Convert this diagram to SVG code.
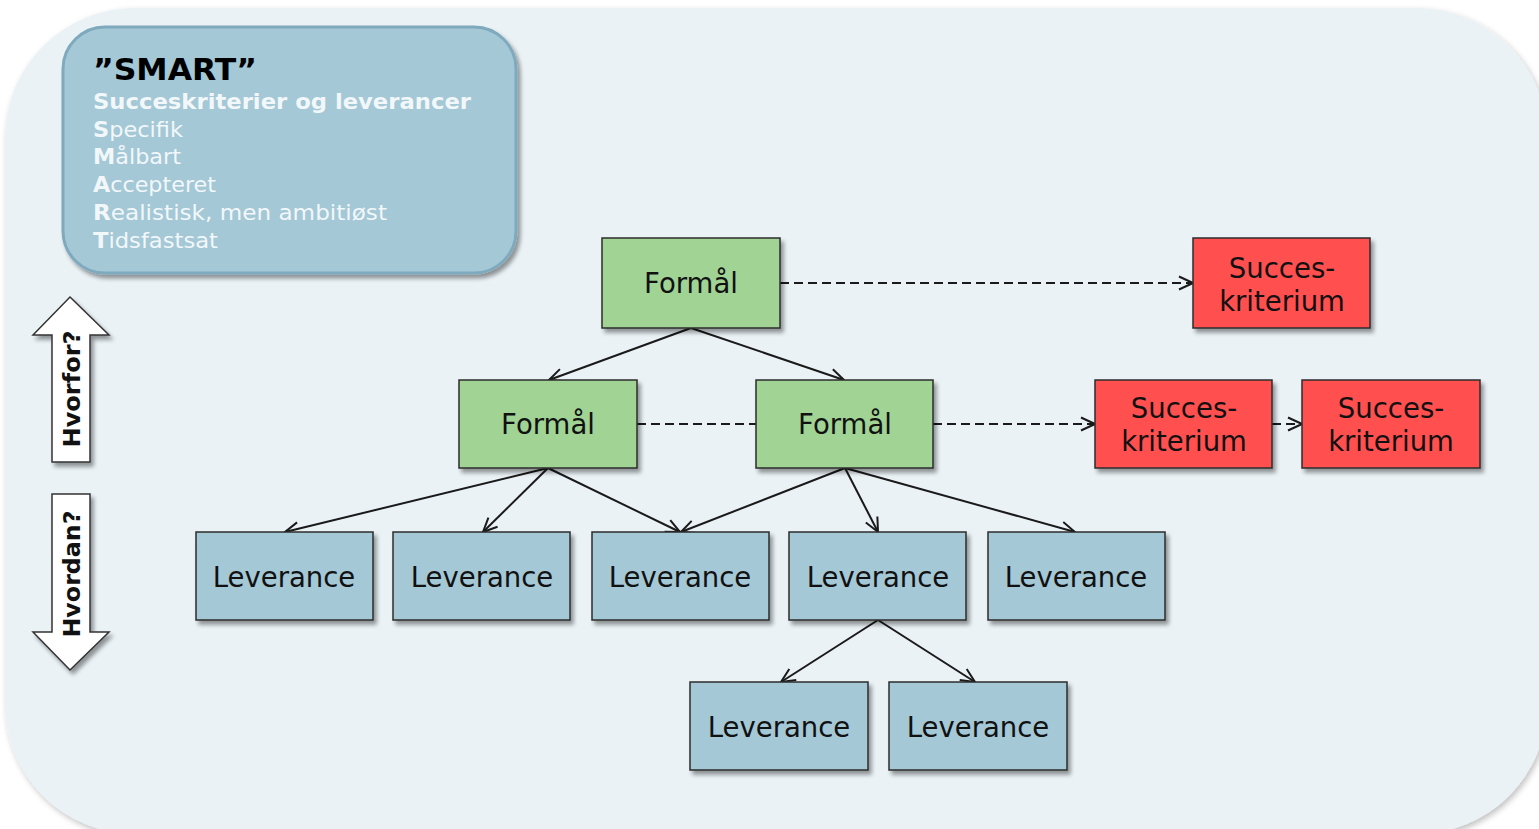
<svg xmlns="http://www.w3.org/2000/svg" width="1539" height="829" viewBox="0 0 1539 829">
<defs>
<filter id="sh" x="-10%" y="-10%" width="130%" height="130%">
<feGaussianBlur in="SourceAlpha" stdDeviation="2"/>
<feOffset dx="3" dy="4" result="o"/>
<feComponentTransfer><feFuncA type="linear" slope="0.4"/></feComponentTransfer>
<feMerge><feMergeNode/><feMergeNode in="SourceGraphic"/></feMerge>
</filter>
<filter id="shbg" x="-5%" y="-5%" width="110%" height="110%">
<feGaussianBlur in="SourceAlpha" stdDeviation="3"/>
<feOffset dx="2" dy="3"/>
<feComponentTransfer><feFuncA type="linear" slope="0.25"/></feComponentTransfer>
<feMerge><feMergeNode/><feMergeNode in="SourceGraphic"/></feMerge>
</filter>
<marker id="ah" viewBox="0 0 16 16" refX="15" refY="8" markerWidth="16" markerHeight="16" markerUnits="userSpaceOnUse" orient="auto">
<path d="M1,1.5 L15,8 L1,14.5" fill="none" stroke="#1a1a1a" stroke-width="2"/>
</marker>
</defs>
<style>
.node rect{stroke:#2b2b2b;stroke-width:1.5;filter:url(#sh)}
.g rect{fill:#A0D394}
.r rect{fill:#FF5050}
.b rect{fill:#A4C8D6}
.node text{font-family:"DejaVu Sans","Liberation Sans",sans-serif;font-size:27.5px;fill:#111;text-anchor:middle}
.c line{stroke:#1a1a1a;stroke-width:2;fill:none}
.c .d{stroke-dasharray:9,5}
.smt{font-family:"DejaVu Sans","Liberation Sans",sans-serif;fill:#F2F7FA;font-size:21px}
.smt tspan.bb{font-weight:bold}
.side{font-family:"DejaVu Sans","Liberation Sans",sans-serif;font-weight:bold;font-size:23px;fill:#111;text-anchor:middle}
</style>
<rect width="1539" height="829" fill="#ffffff"/>
<rect id="bg" x="5" y="8" width="1542" height="826" rx="130" ry="130" fill="#EAF2F6" filter="url(#shbg)"/>

<g id="smart">
<rect x="63" y="27" width="453" height="246" rx="42" ry="42" fill="#A4C8D6" stroke="#7FAABD" stroke-width="3" filter="url(#sh)"/>
<text x="93" y="80" font-family="'DejaVu Sans','Liberation Sans',sans-serif" font-weight="bold" font-size="31" fill="#000" textLength="164" lengthAdjust="spacingAndGlyphs">”SMART”</text>
<text class="smt" x="93" y="109" font-weight="bold" textLength="378" lengthAdjust="spacingAndGlyphs">Succeskriterier og leverancer</text>
<text class="smt" x="93" y="137" textLength="90" lengthAdjust="spacingAndGlyphs"><tspan class="bb">S</tspan>pecifik</text>
<text class="smt" x="93" y="164" textLength="88" lengthAdjust="spacingAndGlyphs"><tspan class="bb">M</tspan>ålbart</text>
<text class="smt" x="93" y="192" textLength="123" lengthAdjust="spacingAndGlyphs"><tspan class="bb">A</tspan>ccepteret</text>
<text class="smt" x="93" y="220" textLength="294" lengthAdjust="spacingAndGlyphs"><tspan class="bb">R</tspan>ealistisk, men ambitiøst</text>
<text class="smt" x="93" y="248" textLength="125" lengthAdjust="spacingAndGlyphs"><tspan class="bb">T</tspan>idsfastsat</text>
</g>

<g id="hvorfor">
<path d="M70,297 L109,335 L90,335 L90,462 L52,462 L52,335 L33,335 Z" fill="#ffffff" stroke="#333" stroke-width="1.5" filter="url(#sh)"/>
<text class="side" transform="translate(80,389) rotate(-90)" textLength="117" lengthAdjust="spacingAndGlyphs">Hvorfor?</text>
</g>
<g id="hvordan">
<path d="M52,494 L90,494 L90,632 L109,632 L70,670 L33,632 L52,632 Z" fill="#ffffff" stroke="#333" stroke-width="1.5" filter="url(#sh)"/>
<text class="side" transform="translate(80,574) rotate(-90)" textLength="127" lengthAdjust="spacingAndGlyphs">Hvordan?</text>
</g>

<g id="connectors" class="c">
<line x1="691" y1="328" x2="549" y2="380" marker-end="url(#ah)"/>
<line x1="691" y1="328" x2="844" y2="380" marker-end="url(#ah)"/>
<line x1="548" y1="468" x2="285" y2="532" marker-end="url(#ah)"/>
<line x1="548" y1="468" x2="483" y2="532" marker-end="url(#ah)"/>
<line x1="548" y1="468" x2="680" y2="532" marker-end="url(#ah)"/>
<line x1="845" y1="468" x2="681" y2="532" marker-end="url(#ah)"/>
<line x1="845" y1="468" x2="878" y2="532" marker-end="url(#ah)"/>
<line x1="845" y1="468" x2="1075" y2="532" marker-end="url(#ah)"/>
<line x1="878" y1="620" x2="781" y2="682" marker-end="url(#ah)"/>
<line x1="878" y1="620" x2="975" y2="682" marker-end="url(#ah)"/>
<line class="d" x1="780" y1="283" x2="1193" y2="283" marker-end="url(#ah)"/>
<line class="d" x1="637" y1="424" x2="756" y2="424"/>
<line class="d" x1="933" y1="424" x2="1095" y2="424" marker-end="url(#ah)"/>
<line class="d" x1="1272" y1="424" x2="1302" y2="424" marker-end="url(#ah)"/>
</g>

<g id="formaal1" class="node g"><rect x="602" y="238" width="178" height="90"/><text x="691" y="293">Formål</text></g>
<g id="formaal2" class="node g"><rect x="459" y="380" width="178" height="88"/><text x="548" y="434">Formål</text></g>
<g id="formaal3" class="node g"><rect x="756" y="380" width="177" height="88"/><text x="845" y="434">Formål</text></g>

<g id="succes1" class="node r"><rect x="1193" y="238" width="177" height="90"/><text x="1282" y="278">Succes-</text><text x="1282" y="311">kriterium</text></g>
<g id="succes2" class="node r"><rect x="1095" y="380" width="177" height="88"/><text x="1184" y="418">Succes-</text><text x="1184" y="451">kriterium</text></g>
<g id="succes3" class="node r"><rect x="1302" y="380" width="178" height="88"/><text x="1391" y="418">Succes-</text><text x="1391" y="451">kriterium</text></g>

<g id="lev1" class="node b"><rect x="196" y="532" width="177" height="88"/><text x="284" y="587">Leverance</text></g>
<g id="lev2" class="node b"><rect x="393" y="532" width="177" height="88"/><text x="482" y="587">Leverance</text></g>
<g id="lev3" class="node b"><rect x="592" y="532" width="177" height="88"/><text x="680" y="587">Leverance</text></g>
<g id="lev4" class="node b"><rect x="789" y="532" width="177" height="88"/><text x="878" y="587">Leverance</text></g>
<g id="lev5" class="node b"><rect x="988" y="532" width="177" height="88"/><text x="1076" y="587">Leverance</text></g>
<g id="lev6" class="node b"><rect x="690" y="682" width="178" height="88"/><text x="779" y="737">Leverance</text></g>
<g id="lev7" class="node b"><rect x="889" y="682" width="178" height="88"/><text x="978" y="737">Leverance</text></g>
</svg>
